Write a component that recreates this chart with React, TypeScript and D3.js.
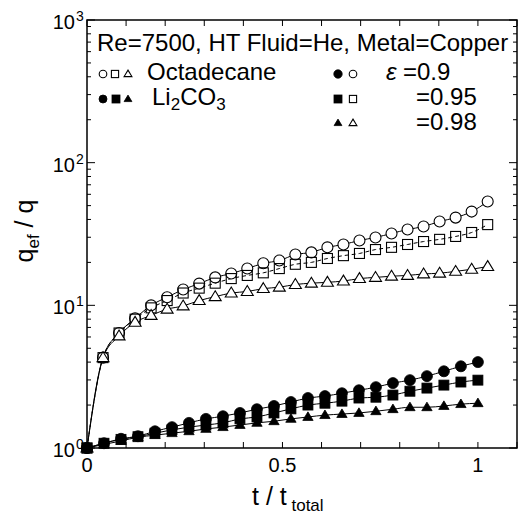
import React from "react";
import * as d3 from "d3";

const octaT = [0, 0.041, 0.082, 0.123, 0.164, 0.205, 0.246, 0.287, 0.328, 0.369, 0.41, 0.451, 0.492, 0.533, 0.574, 0.615, 0.656, 0.697, 0.738, 0.779, 0.82, 0.861, 0.902, 0.943, 0.984, 1.025];
const octaCircle = [1.0, 4.3, 6.4, 8.1, 10.0, 11.4, 12.9, 14.2, 15.7, 16.7, 18.1, 19.7, 20.6, 22.7, 23.5, 25.5, 26.7, 28.5, 29.9, 31.9, 34.0, 35.7, 38.7, 41.2, 45.4, 53.4];
const octaSquare = [1.0, 4.3, 6.4, 8.0, 9.6, 10.8, 12.2, 13.2, 14.3, 15.4, 16.2, 16.9, 18.1, 19.4, 20.0, 21.3, 22.3, 23.1, 24.6, 25.5, 26.7, 28.0, 29.0, 30.4, 32.4, 36.8];
const octaTriangle = [1.0, 4.3, 6.1, 7.6, 8.5, 9.4, 9.9, 10.8, 11.5, 12.2, 12.5, 13.1, 13.4, 14.0, 14.3, 14.5, 14.8, 15.4, 15.7, 16.0, 16.2, 16.6, 16.8, 17.3, 17.9, 18.7];

const liT = [0, 0.0435, 0.087, 0.1304, 0.1739, 0.2174, 0.2609, 0.3043, 0.3478, 0.3913, 0.4348, 0.4783, 0.5217, 0.5652, 0.6087, 0.6522, 0.6957, 0.7391, 0.7826, 0.8261, 0.8696, 0.913, 0.9565, 1.0];
const liCircle = [1.0, 1.08, 1.16, 1.21, 1.31, 1.40, 1.50, 1.60, 1.67, 1.76, 1.87, 1.97, 2.10, 2.24, 2.31, 2.42, 2.54, 2.67, 2.85, 2.99, 3.19, 3.45, 3.74, 4.0];
const liSquare = [1.0, 1.08, 1.15, 1.20, 1.27, 1.34, 1.40, 1.45, 1.50, 1.60, 1.65, 1.76, 1.88, 2.0, 2.06, 2.13, 2.24, 2.27, 2.35, 2.50, 2.63, 2.76, 2.90, 2.99];
const liTriangle = [1.0, 1.06, 1.12, 1.19, 1.23, 1.27, 1.31, 1.36, 1.40, 1.45, 1.50, 1.54, 1.60, 1.65, 1.70, 1.73, 1.76, 1.81, 1.87, 1.93, 1.93, 1.97, 2.03, 2.06];

const xTicks = [0, 0.1, 0.2, 0.3, 0.4, 0.5, 0.6, 0.7, 0.8, 0.9, 1.0, 1.1];
const xTickLabels = ["0", "0.5", "1"];
const xLabelValues = [0, 0.5, 1];
const yDecades = [0, 1, 2, 3];

const FONT = "'Liberation Sans', Arial, Helvetica, sans-serif";
const L = 87, R = 517, T = 20, B = 448;

type Shape = "circle" | "square" | "triangle";

function Marker({ shape, cx, cy, size, filled }: { shape: Shape; cx: number; cy: number; size: number; filled: boolean }) {
  const fill = filled ? "#000" : "#fff";
  const sw = filled ? 0.8 : 1.1;
  if (shape === "circle") return <circle cx={cx} cy={cy} r={size} fill={fill} stroke="#000" strokeWidth={sw} />;
  if (shape === "square") return <rect x={cx - size} y={cy - size} width={size * 2} height={size * 2} fill={filled ? "#000" : "none"} stroke="#000" strokeWidth={sw} />;
  const h = size * 1.9;
  const w = size * 1.15;
  const p = `M${cx},${cy - h * 0.6} L${cx + w},${cy + h * 0.4} L${cx - w},${cy + h * 0.4} Z`;
  return <path d={p} fill={fill} stroke="#000" strokeWidth={sw} />;
}

export default function App() {
  const x = d3.scaleLinear().domain([0, 1.1]).range([L, R]);
  const y = d3.scaleLog().domain([1, 1000]).range([B, T]);

  const mk = (ts: number[], vs: number[]) => ts.map((t, i) => [x(t), y(vs[i])] as [number, number]);
  const line = d3.line().curve(d3.curveMonotoneX);

  const series = [
    { pts: mk(octaT, octaCircle), shape: "circle" as Shape, filled: false, dash: undefined, size: 5.5 },
    { pts: mk(octaT, octaSquare), shape: "square" as Shape, filled: false, dash: "4,3", size: 5 },
    { pts: mk(octaT, octaTriangle), shape: "triangle" as Shape, filled: false, dash: undefined, size: 5.2 },
    { pts: mk(liT, liCircle), shape: "circle" as Shape, filled: true, dash: undefined, size: 5.5 },
    { pts: mk(liT, liSquare), shape: "square" as Shape, filled: true, dash: undefined, size: 5 },
    { pts: mk(liT, liTriangle), shape: "triangle" as Shape, filled: true, dash: undefined, size: 4.5 },
  ];

  const minorY: number[] = [];
  for (let d = 0; d < 3; d++) for (let m = 2; m <= 9; m++) minorY.push(m * Math.pow(10, d));

  return (
    <svg width={521} height={515} style={{ position: "absolute", left: 0, top: 0, background: "#fff" }} fontFamily={FONT}>
      <rect x={0} y={0} width={521} height={515} fill="#fff" />
      {series.map((s, i) => (
        <path key={"l" + i} d={line(s.pts) || ""} fill="none" stroke="#000" strokeWidth={1} strokeDasharray={s.dash} />
      ))}
      {series.map((s, i) =>
        s.pts.map((p, j) => (
          <Marker key={"m" + i + "-" + j} shape={s.shape} cx={p[0]} cy={p[1]} size={s.size} filled={s.filled} />
        ))
      )}
      <rect x={L} y={T} width={R - L} height={B - T} fill="none" stroke="#000" strokeWidth={1.5} />
      {xTicks.map((t, i) => (
        <g key={"xt" + i}>
          <line x1={x(t)} x2={x(t)} y1={B} y2={B - 6} stroke="#000" strokeWidth={1} />
          <line x1={x(t)} x2={x(t)} y1={T} y2={T + 6} stroke="#000" strokeWidth={1} />
        </g>
      ))}
      {xLabelValues.map((t, i) => (
        <text key={"xl" + i} x={x(t)} y={472} fontSize={20} textAnchor="middle">{xTickLabels[i]}</text>
      ))}
      {yDecades.map((d) => (
        <g key={"yd" + d}>
          <line x1={L} x2={L + 8} y1={y(Math.pow(10, d))} y2={y(Math.pow(10, d))} stroke="#000" strokeWidth={1} />
          <line x1={R} x2={R - 8} y1={y(Math.pow(10, d))} y2={y(Math.pow(10, d))} stroke="#000" strokeWidth={1} />
          <text x={75} y={y(Math.pow(10, d)) + 9} fontSize={20} textAnchor="end">10</text>
          <text x={76} y={y(Math.pow(10, d)) + 1} fontSize={14} textAnchor="start">{d}</text>
        </g>
      ))}
      {minorY.map((v, i) => (
        <g key={"ym" + i}>
          <line x1={L} x2={L + 4} y1={y(v)} y2={y(v)} stroke="#000" strokeWidth={1} />
          <line x1={R} x2={R - 4} y1={y(v)} y2={y(v)} stroke="#000" strokeWidth={1} />
        </g>
      ))}
      <text x={252} y={505} fontSize={25}>
        t / t<tspan fontSize={17} dy={6}> total</tspan>
      </text>
      <text transform={`translate(33,231) rotate(-90)`} fontSize={25} textAnchor="middle">
        q<tspan fontSize={17} dy={6}>ef</tspan><tspan dy={-6}> / q</tspan>
      </text>
      <text x={97} y={51} fontSize={24}>Re=7500, HT Fluid=He, Metal=Copper</text>
      <Marker shape="circle" cx={103} cy={74} size={3.8} filled={false} />
      <Marker shape="square" cx={115} cy={74} size={3.6} filled={false} />
      <Marker shape="triangle" cx={128} cy={74} size={3.4} filled={false} />
      <text x={147} y={80} fontSize={24}>Octadecane</text>
      <Marker shape="circle" cx={103} cy={99} size={4} filled={true} />
      <Marker shape="square" cx={116} cy={99} size={4} filled={true} />
      <Marker shape="triangle" cx={128} cy={99} size={3.4} filled={true} />
      <text x={152} y={105} fontSize={24}>
        Li<tspan fontSize={17} dy={5}>2</tspan><tspan dy={-5}>CO</tspan><tspan fontSize={17} dy={5}>3</tspan>
      </text>
      <Marker shape="circle" cx={338} cy={74} size={4.2} filled={true} />
      <Marker shape="circle" cx={353} cy={74} size={3.8} filled={false} />
      <text x={386} y={80} fontSize={24} fontStyle="italic">ε</text>
      <text x={403} y={80} fontSize={24}>=0.9</text>
      <Marker shape="square" cx={338} cy={99} size={4} filled={true} />
      <Marker shape="square" cx={353} cy={99} size={3.6} filled={false} />
      <text x={416} y={105} fontSize={24}>=0.95</text>
      <Marker shape="triangle" cx={338} cy={123} size={3.4} filled={true} />
      <Marker shape="triangle" cx={353} cy={123} size={3.4} filled={false} />
      <text x={416} y={130} fontSize={24}>=0.98</text>
    </svg>
  );
}
